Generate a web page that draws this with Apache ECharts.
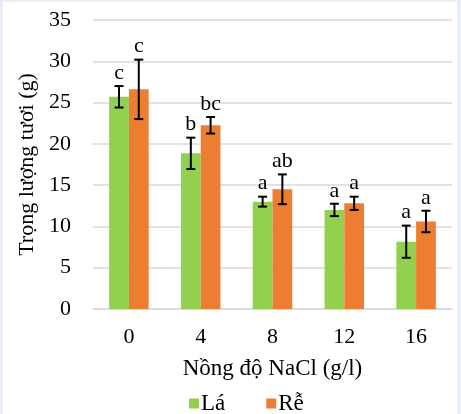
<!DOCTYPE html>
<html>
<head>
<meta charset="utf-8">
<script src="https://cdn.jsdelivr.net/npm/echarts@6/dist/echarts.min.js"></script>
<style>
html, body { margin: 0; padding: 0; background: #e8edf7; }
#chart { position: absolute; left: 3px; top: 2px; width: 454px; height: 412px; background: #ffffff; }
</style>
</head>
<body>
<div id="chart"></div>
<script>
const categories = ['0', '4', '8', '12', '16'];
const laValues = [25.7, 18.85, 13.0, 12.0, 8.15];
const laErrors = [1.3, 1.9, 0.6, 0.75, 1.95];
const laLetters = ['c', 'b', 'a', 'a', 'a'];
const reValues = [26.6, 22.25, 14.5, 12.8, 10.6];
const reErrors = [3.6, 1.0, 1.8, 0.8, 1.3];
const reLetters = ['c', 'bc', 'ab', 'a', 'a'];
const yTicks = [0, 5, 10, 15, 20, 25, 30, 35];

const font = 'Liberation Serif, Times New Roman, serif';
const fs = 22;
const catGap = 0.45;

const chart = echarts.init(document.getElementById('chart'));

function errorData(values, errors, letters) {
  return values.map((v, i) => [i, v - errors[i], v + errors[i], letters[i]]);
}

function errorSeries(name, values, errors, letters, side) {
  return {
    name: name + ' err',
    type: 'custom',
    z: 10,
    data: errorData(values, errors, letters),
    renderItem: function (params, api) {
      const band = api.size([1, 0])[0];
      const barW = band * (1 - catGap) / 2;
      const c = api.coord([api.value(0), 0]);
      const x = c[0] + side * barW / 2;
      const low = api.coord([api.value(0), api.value(1)])[1];
      const high = api.coord([api.value(0), api.value(2)])[1];
      const cap = 4.5;
      const st = { stroke: '#000', lineWidth: 2 };
      return {
        type: 'group',
        children: [
          { type: 'line', shape: { x1: x, y1: low, x2: x, y2: high }, style: st },
          { type: 'line', shape: { x1: x - cap, y1: low, x2: x + cap, y2: low }, style: st },
          { type: 'line', shape: { x1: x - cap, y1: high, x2: x + cap, y2: high }, style: st },
          {
            type: 'text',
            style: {
              text: api.value(3),
              x: x,
              y: high - 2,
              align: 'center',
              verticalAlign: 'bottom',
              fill: '#000',
              font: fs + 'px ' + font
            }
          }
        ]
      };
    }
  };
}

const option = {
  animation: false,
  textStyle: { fontFamily: font },
  grid: { left: 90, right: 5, top: 18, bottom: 105 },
  legend: {
    data: ['Lá', 'Rễ'],
    left: 181,
    top: 385,
    itemWidth: 10,
    itemHeight: 10,
    itemGap: 41,
    icon: 'rect',
    textStyle: { fontSize: 23, color: '#000', fontFamily: font, padding: [0, 0, 0, -3] }
  },
  xAxis: {
    type: 'category',
    data: categories,
    name: 'Nồng độ NaCl (g/l)',
    nameLocation: 'middle',
    nameGap: 48,
    nameTextStyle: { fontSize: 23, color: '#000', fontFamily: font },
    axisLine: { lineStyle: { color: '#d9d9d9', width: 1.5 } },
    axisTick: { show: false },
    axisLabel: { fontSize: fs, color: '#000', margin: 17, fontFamily: font }
  },
  yAxis: {
    type: 'value',
    min: yTicks[0],
    max: yTicks[yTicks.length - 1],
    interval: 5,
    name: 'Trọng lượng tươi (g)',
    nameLocation: 'middle',
    nameGap: 54,
    nameTextStyle: { fontSize: fs, color: '#000', fontFamily: font },
    axisLine: { show: false },
    axisTick: { show: false },
    axisLabel: { fontSize: fs, color: '#000', margin: 22, fontFamily: font },
    splitLine: { lineStyle: { color: '#d9d9d9', width: 1.5 } }
  },
  series: [
    {
      name: 'Lá',
      type: 'bar',
      data: laValues,
      barGap: '0%',
      barCategoryGap: (catGap * 100) + '%',
      itemStyle: { color: '#92d050' }
    },
    {
      name: 'Rễ',
      type: 'bar',
      data: reValues,
      barGap: '0%',
      barCategoryGap: (catGap * 100) + '%',
      itemStyle: { color: '#ed7d31' }
    },
    errorSeries('Lá', laValues, laErrors, laLetters, -1),
    errorSeries('Rễ', reValues, reErrors, reLetters, 1)
  ]
};

chart.setOption(option);
</script>
</body>
</html>
